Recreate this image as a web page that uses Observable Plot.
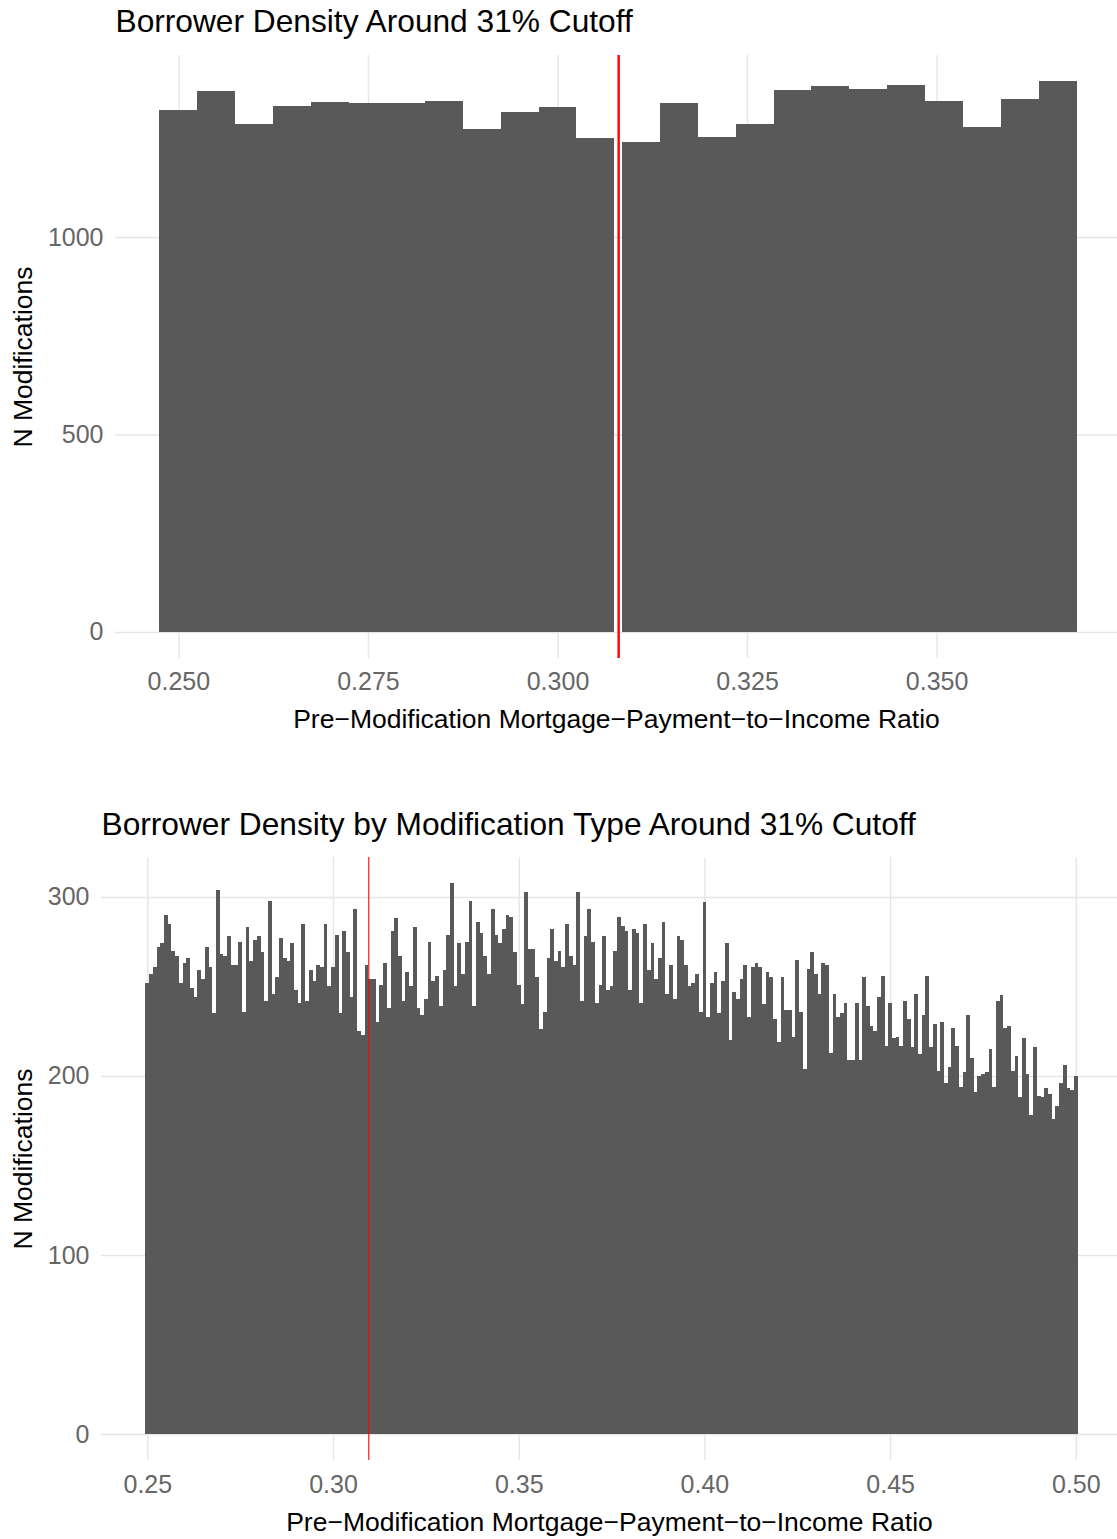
<!DOCTYPE html>
<html>
<head>
<meta charset="utf-8">
<script src="https://cdn.jsdelivr.net/npm/d3@7"></script>
<script src="https://cdn.jsdelivr.net/npm/@observablehq/plot@0.6"></script>
<style>
  html, body { margin: 0; padding: 0; background: #fff; }
  #wrap { width: 1117px; height: 1539px; overflow: hidden; background: #fff; }
  #wrap svg { display: block; }
</style>
</head>
<body>
<div id="wrap"></div>
<script>
// ---------- Top chart data ----------
const topTitle = "Borrower Density Around 31% Cutoff";
const xTitle = "Pre\u2212Modification Mortgage\u2212Payment\u2212to\u2212Income Ratio";
const yTitle = "N Modifications";
const topBinStarts = [0.2475, 0.2525, 0.2575, 0.2625, 0.2675, 0.2725, 0.2775, 0.2825, 0.2875, 0.2925, 0.2975, 0.3025,
                      0.3085, 0.3135, 0.3185, 0.3235, 0.3285, 0.3335, 0.3385, 0.3435, 0.3485, 0.3535, 0.3585, 0.3635];
const topBinWidth = 0.005;
const topCounts = [1322, 1370, 1286, 1332, 1342, 1339, 1339, 1345, 1274, 1317, 1329, 1251,
                   1241, 1339, 1253, 1286, 1372, 1383, 1375, 1385, 1345, 1279, 1350, 1395];
const topCutoff = [0.308];
const topXTicks = [0.250, 0.275, 0.300, 0.325, 0.350];
const topYTicks = [0, 500, 1000];

// ---------- Bottom chart data ----------
const botTitle = "Borrower Density by Modification Type Around 31% Cutoff";
const botBinFirstStart = 0.2495;
const botBinWidth = 0.001;
const botCounts = [252,257,261,272,274,290,285,270,267,252, 263,266,249,244,259,254,272,261,235,304,
  268,267,278,262,262,275,236,283,264,276, 278,269,242,298,246,255,277,266,264,274,
  248,241,285,242,259,253,262,261,285,250, 261,279,235,281,269,244,293,225,223,262,
  254,254,230,251,263,238,281,288,267,242, 258,250,283,238,234,243,275,253,256,239,
  259,279,308,250,274,257,275,298,239,286, 280,267,257,293,279,274,282,290,289,269,
  251,240,303,271,271,255,226,236,266,282, 264,270,261,285,267,262,303,242,278,293,
  275,241,251,278,248,250,270,289,284,281, 248,282,280,241,285,259,274,254,266,286,
  246,262,243,278,276,262,250,252,257,236, 297,233,252,258,235,253,274,220,247,243,
  254,262,233,261,263,261,240,258,255,232, 219,255,237,237,222,265,236,204,260,269,
  257,246,263,262,213,246,233,235,241,209, 209,241,209,255,239,228,225,244,256,217,
  241,221,222,217,242,232,216,246,212,234, 256,216,229,203,230,196,205,227,217,194,
  202,234,210,191,200,201,202,215,194,242, 245,227,228,203,211,188,221,201,178,216,
  189,188,193,190,176,183,196,206,193,192, 200];
const botCutoff = [0.3095];
const botXTicks = [0.25, 0.30, 0.35, 0.40, 0.45, 0.50];
const botYTicks = [0, 100, 200, 300];

// ---------- Styling ----------
const FONT = "'Liberation Sans', Arial, Helvetica, sans-serif";
const BAR = "#595959";
const GRID = "#e6e6e6";
const TICK = "#666666";

const topData = topBinStarts.map((s, i) => ({x1: s, x2: s + topBinWidth, n: topCounts[i]}));
const botData = botCounts.map((n, i) => ({x1: botBinFirstStart + i * botBinWidth, x2: botBinFirstStart + (i + 1) * botBinWidth, n}));

function chart({data, title, xDomain, yDomain, xTicks, yTicks, xFmt, cutoff, cutW,
                height, mTop, mBottom, mLeft, titleDy, xPad, xTitleDy, yTitleX}) {
  return Plot.plot({
    width: 1117, height,
    marginTop: mTop, marginBottom: mBottom, marginLeft: mLeft, marginRight: 0,
    x: {domain: xDomain},
    y: {domain: yDomain},
    style: {fontFamily: FONT, background: "#fff", overflow: "visible"},
    marks: [
      Plot.gridX(xTicks, {stroke: GRID, strokeOpacity: 1, strokeWidth: 1.4}),
      Plot.gridY(yTicks, {stroke: GRID, strokeOpacity: 1, strokeWidth: 1.4}),
      Plot.rectY(data, {x1: "x1", x2: "x2", y: "n", fill: BAR, inset: 0, shapeRendering: "crispEdges"}),
      Plot.ruleX(cutoff, {stroke: "#ff0000", strokeWidth: cutW}),
      Plot.axisX(xTicks, {tickSize: 0, tickPadding: xPad, tickFormat: xFmt, fontSize: 25, color: TICK, label: null}),
      Plot.axisY(yTicks, {tickSize: 0, tickPadding: 12, tickFormat: d => String(d), fontSize: 25, color: TICK, label: null}),
      Plot.text([title], {text: d => d, frameAnchor: "top-left", textAnchor: "start", lineAnchor: "bottom",
        dy: titleDy, fontSize: 31.7, fill: "#000"}),
      Plot.text([xTitle], {text: d => d, frameAnchor: "bottom", textAnchor: "middle", lineAnchor: "bottom",
        dy: xTitleDy, fontSize: 26.5, fill: "#000"}),
      Plot.text([yTitle], {text: d => d, frameAnchor: "left", textAnchor: "middle", lineAnchor: "bottom",
        rotate: -90, dx: yTitleX - mLeft, fontSize: 26.5, fill: "#000"})
    ]
  });
}

const wrap = document.getElementById("wrap");

wrap.appendChild(chart({
  data: topData, title: topTitle,
  xDomain: [0.241638, 0.373793], yDomain: [-66, 1461],
  xTicks: topXTicks, yTicks: topYTicks, xFmt: d3.format(".3f"),
  cutoff: topCutoff, cutW: 2.4,
  height: 770, mTop: 55, mBottom: 112, mLeft: 115,
  titleDy: -23.5, xPad: 14, xTitleDy: 69, yTitleX: 31.5
}));

wrap.appendChild(chart({
  data: botData, title: botTitle,
  xDomain: [0.23753, 0.51109], yDomain: [-14.5, 322.3],
  xTicks: botXTicks, yTicks: botYTicks, xFmt: d3.format(".2f"),
  cutoff: botCutoff, cutW: 1.1,
  height: 769, mTop: 87, mBottom: 79, mLeft: 101,
  titleDy: -23, xPad: 15, xTitleDy: 70, yTitleX: 31.5
}));
</script>
</body>
</html>
